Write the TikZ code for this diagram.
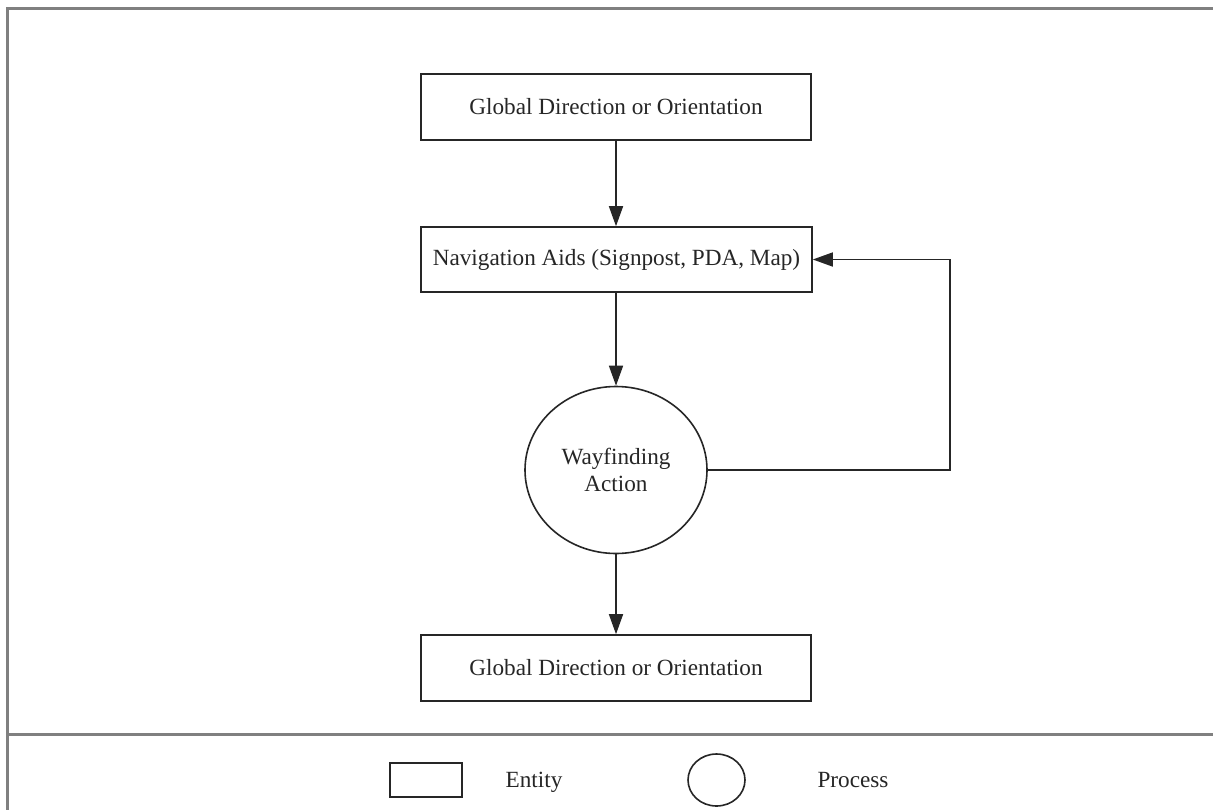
\documentclass[tikz,border=0pt]{standalone}
\usepackage{fontspec}
\setmainfont{Liberation Serif}
\usetikzlibrary{shapes.geometric,arrows.meta}
\begin{document}
\begin{tikzpicture}[x=1pt,y=-1pt,
  ink/.style={draw=black!85, line width=1.6pt},
  entity/.style={ink, rectangle, inner sep=0pt, minimum width=390pt, minimum height=66pt,
    font=\fontsize{23.2}{27}\selectfont, text=black!85},
  process/.style={ink, ellipse, inner sep=0pt, minimum width=182pt, minimum height=167pt,
    align=center, font=\fontsize{23.2}{27}\selectfont, text=black!85},
  flow/.style={ink, -{Triangle[length=20pt,width=14pt]}},
  frame/.style={draw=black!50, line width=3pt},
  label/.style={inner sep=0pt, anchor=base, font=\fontsize{23.2}{27}\selectfont, text=black!85}]
\useasboundingbox (0,0) rectangle (1213,809);
\fill[white] (0,0) rectangle (1213,809);

% outer frame and legend divider
\draw[frame] (1214.2,8.5) -- (7.5,8.5) -- (7.5,815);
\draw[frame, draw=black!30] (1214.2,8.5) -- (1214.2,815);
\draw[frame] (7.5,734) -- (1213,734);

% flow chart
\node[entity] (top) at (616,107) {Global Direction or Orientation};
\node[entity, minimum width=391pt, minimum height=65pt] (nav) at (616.5,259.5) {Navigation Aids (Signpost, PDA, Map)};
\node[process] (act) at (616,470) {Wayfinding\\Action};
\node[entity] (bot) at (616,668) {Global Direction or Orientation};

\coordinate (loopA) at (950,470);
\coordinate (loopB) at (950,259.5);

\draw[flow] (top.south) -- (nav.north -| top.south);
\draw[flow] (nav.south -| act.north) -- (act.north);
\draw[flow] (act.south) -- (bot.north -| act.south);
\draw[flow] (act.east) -- (loopA) -- (loopB) -- (nav.east);

% legend
\node[ink, rectangle, inner sep=0pt, minimum width=72pt, minimum height=34pt] (legrect) at (426,780) {};
\node[label] (legentity) at (534,787) {Entity};
\node[ink, ellipse, inner sep=0pt, minimum width=57pt, minimum height=52pt] (legcirc) at (716.5,780) {};
\node[label] (legprocess) at (853,787) {Process};
\end{tikzpicture}
\end{document}
